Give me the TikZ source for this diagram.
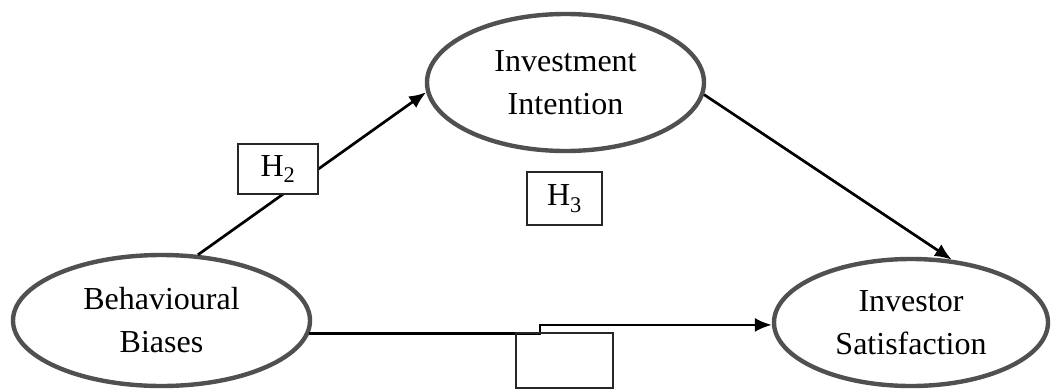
\documentclass[tikz,border=0pt]{standalone}
\usepackage{fontspec}
\setmainfont{Liberation Serif}
\usetikzlibrary{shapes.geometric,arrows.meta}
\definecolor{ringgray}{HTML}{505050}
\tikzset{
  construct/.style={ellipse, draw=ringgray, line width=4.4pt, inner sep=0pt,
    align=center, font=\fontsize{32}{43}\selectfont},
  hbox/.style={draw=black!85, line width=1.4pt, fill=white, inner sep=0pt,
    font=\fontsize{32}{42}\selectfont},
  link/.style={draw=black, line width=2.7pt, -{Latex[length=17pt,width=14pt]}}
}
\begin{document}
\begin{tikzpicture}[x=1pt,y=-1pt]
\useasboundingbox (0,0) rectangle (1054,391);
\node[construct, minimum width=297pt, minimum height=131pt] (bb) at (161.5,320.5) {Behavioural\\Biases};
\node[construct, minimum width=277pt, minimum height=137pt] (ii) at (565.5,82.5) {Investment\\Intention};
\node[construct, minimum width=274pt, minimum height=127pt] (is) at (911,322.5) {Investor\\Satisfaction};
\coordinate (kink) at (540,329);
\draw[link] (bb.61) -- (ii.184);
\draw[link] (ii.355) -- (is.57);
\draw[link] (bb.355) -| (kink) |- (is.181);
\node[hbox, minimum width=80pt, minimum height=50pt] (h2) at (278,169) {H\textsubscript{2}};
\node[hbox, minimum width=75pt, minimum height=53pt] (h3) at (564.5,198.5) {H\textsubscript{3}};
\node[hbox, fill=none, minimum width=97pt, minimum height=55pt] (h1) at (564.5,360.5) {};
\end{tikzpicture}
\end{document}
